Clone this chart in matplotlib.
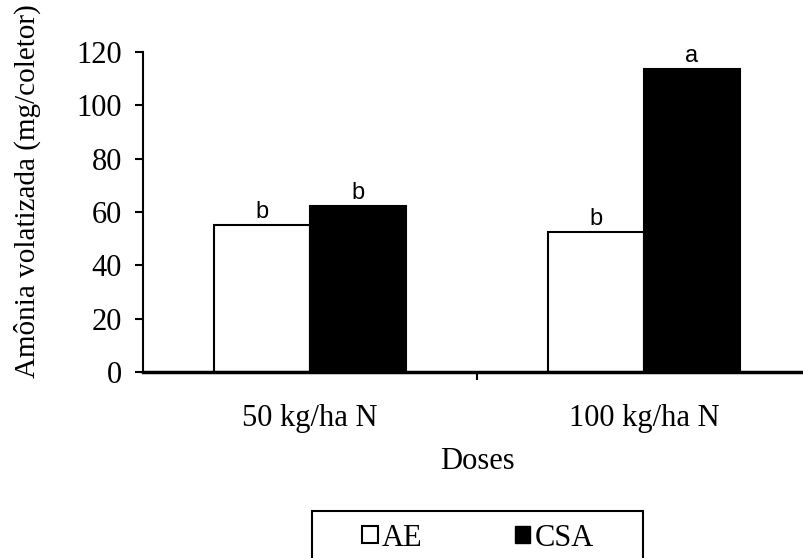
import matplotlib as mpl
import matplotlib.pyplot as plt
from matplotlib.patches import Rectangle, Patch
import numpy as np

mpl.rcParams['font.family'] = 'Liberation Serif'

doses = ["50 kg/ha N", "100 kg/ha N"]
ae = [55.0, 52.5]
csa = [62.2, 113.6]
letras_ae = ["b", "b"]
letras_csa = ["b", "a"]

fig = plt.figure(figsize=(8.04, 5.58), dpi=100)
ax = fig.add_axes([143 / 804, 1 - 372 / 558, 668 / 804, 320 / 558])

x = np.arange(len(doses))
w = 0.287

b1 = ax.bar(x - w / 2, ae, w, color='white', edgecolor='black', linewidth=1.5, label='AE')
b2 = ax.bar(x + w / 2, csa, w, color='black', edgecolor='black', linewidth=1.5, label='CSA')

# letras de significancia sobre las barras
for barras, letras in [(b1, letras_ae), (b2, letras_csa)]:
    for r, l in zip(barras, letras):
        ax.text(r.get_x() + r.get_width() / 2, r.get_height() + 0.8, l,
                ha='center', va='bottom', fontsize=17, family='Liberation Sans')

ax.set_xlim(-0.5, 1.5)
ax.set_ylim(0, 120)
ax.set_yticks(np.arange(0, 121, 20))
ax.set_xticks(x)
ax.set_xticklabels(doses)
ax.set_xticks([0.5], minor=True)
ax.tick_params(axis='x', which='major', length=0, pad=23, labelsize=22)
ax.tick_params(axis='x', which='minor', length=6, width=1.5, direction='out')
ax.tick_params(axis='y', length=6, width=1.5, pad=9, labelsize=22)

ax.spines['top'].set_visible(False)
ax.spines['right'].set_visible(False)
ax.spines['left'].set_linewidth(1.5)
ax.spines['bottom'].set_linewidth(2.5)

ax.set_xlabel("Doses", fontsize=22, labelpad=10)
ax.set_ylabel("Amônia volatizada (mg/coletor)", fontsize=21)
ax.yaxis.set_label_coords(-0.153, 0.565)

# caja de la leyenda
fig.patches.append(Rectangle((312 / 804, 0 - 0.02), 331 / 804, 1 - 511 / 558 + 0.02,
                             transform=fig.transFigure, facecolor='white',
                             edgecolor='black', linewidth=1.5))
handles = [Patch(facecolor='white', edgecolor='black', linewidth=1.5, label='AE'),
           Patch(facecolor='black', edgecolor='black', label='CSA')]
fig.legend(handles=handles, loc='center', bbox_to_anchor=(478 / 804, 1 - 538 / 558),
           ncol=2, frameon=False, fontsize=22, handlelength=0.5, handleheight=0.5,
           handletextpad=0.15, columnspacing=3.0)

plt.savefig("out.png")
